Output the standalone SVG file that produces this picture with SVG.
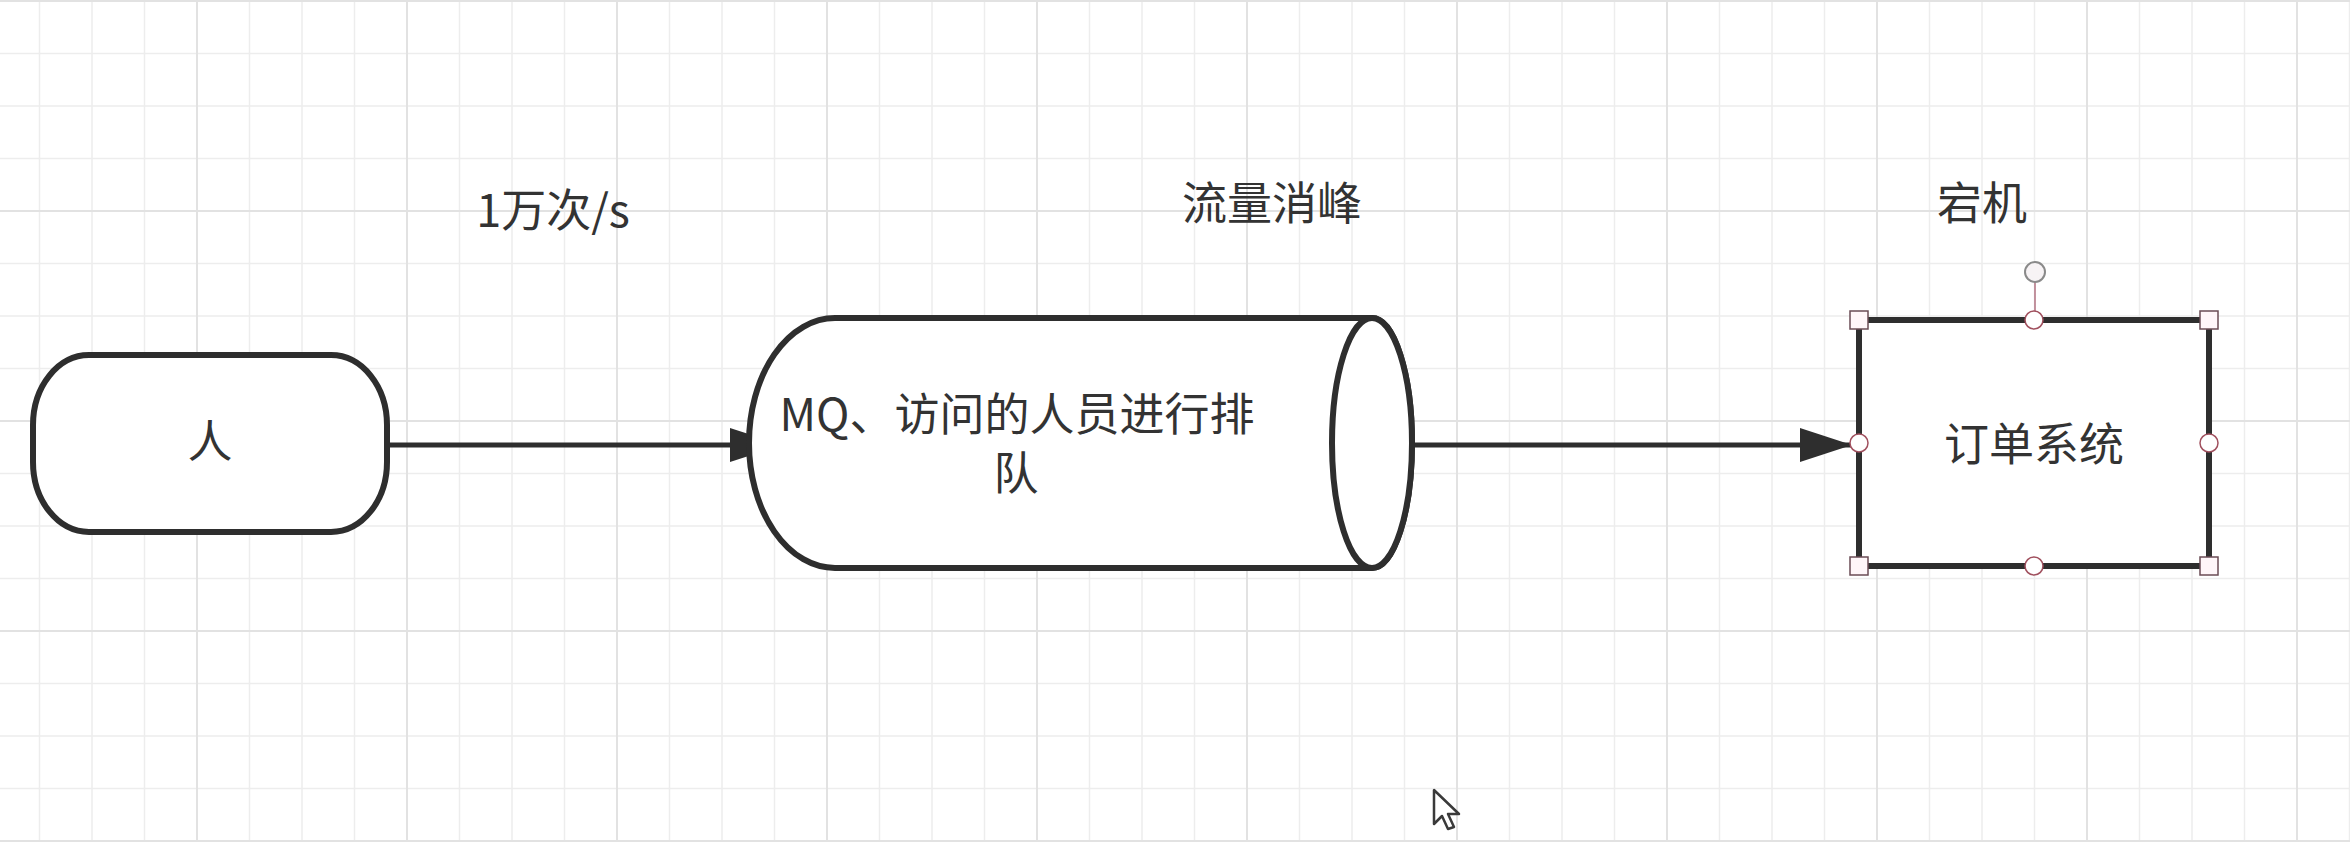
<svg xmlns="http://www.w3.org/2000/svg" width="2350" height="842" viewBox="0 0 2350 842">
<style>
.gridmin{stroke:#ededed;stroke-width:1.5;fill:none}
.gridmaj{stroke:#e2e2e2;stroke-width:2;fill:none}
.shape{fill:#ffffff;stroke:#2e2e2e;stroke-width:6}
.edge{stroke:#2e2e2e;stroke-width:5;fill:none}
.lbl{font-family:"Noto Sans CJK SC","Noto Sans",sans-serif;font-size:45px;fill:#333333;text-anchor:middle}
.hsq{fill:#fff6f9;stroke:#6b4c55;stroke-width:1.5}
.hci{fill:#ffffff;stroke:#a0505e;stroke-width:1.5}
</style>
<defs>
<marker id="arrow" markerUnits="userSpaceOnUse" markerWidth="54" markerHeight="36" refX="52" refY="17" orient="auto" viewBox="0 0 54 36">
<path d="M0,0 L52,17 L0,34 Z" fill="#2e2e2e"/>
</marker>
</defs>
<rect x="0" y="0" width="2350" height="842" fill="#ffffff"/>
<g id="grid">
<path class="gridmin" d="M39.5 0V842M92 0V842M144.5 0V842M249.5 0V842M302 0V842M354.5 0V842M459.5 0V842M512 0V842M564.5 0V842M669.5 0V842M722 0V842M774.5 0V842M879.5 0V842M932 0V842M984.5 0V842M1089.5 0V842M1142 0V842M1194.5 0V842M1299.5 0V842M1352 0V842M1404.5 0V842M1509.5 0V842M1562 0V842M1614.5 0V842M1719.5 0V842M1772 0V842M1824.5 0V842M1929.5 0V842M1982 0V842M2034.5 0V842M2139.5 0V842M2192 0V842M2244.5 0V842M2349.5 0V842M0 53.5H2350M0 106H2350M0 158.5H2350M0 263.5H2350M0 316H2350M0 368.5H2350M0 473.5H2350M0 526H2350M0 578.5H2350M0 683.5H2350M0 736H2350M0 788.5H2350"/>
<path class="gridmaj" d="M197 0V842M407 0V842M617 0V842M827 0V842M1037 0V842M1247 0V842M1457 0V842M1667 0V842M1877 0V842M2087 0V842M2297 0V842M0 1H2350M0 211H2350M0 421H2350M0 631H2350M0 841H2350"/>
</g>
<g id="labels">
<text class="lbl" x="553" y="227">1万次/s</text>
<text class="lbl" x="1272" y="220">流量消峰</text>
<text class="lbl" x="1982" y="220">宕机</text>
</g>
<g id="connectors">
<path class="edge" d="M387,445 L782,445" marker-end="url(#arrow)"/>
<path class="edge" d="M1412,445 L1852,445" marker-end="url(#arrow)"/>
</g>
<g id="node-person">
<path class="shape" d="M89,355 L331,355 A56,70 0 0 1 387,425 L387,462 A56,70 0 0 1 331,532 L89,532 A56,70 0 0 1 33,462 L33,425 A56,70 0 0 1 89,355 Z"/>
<text class="lbl" x="210" y="458">人</text>
</g>
<g id="node-mq">
<path class="shape" d="M835,318 L1372,318 A40,125 0 0 1 1372,568 L835,568 A86,125 0 0 1 835,318 Z"/>
<ellipse class="shape" cx="1372" cy="443" rx="40" ry="125"/>
<text class="lbl" x="1017" y="431">MQ、访问的人员进行排</text>
<text class="lbl" x="1016" y="490">队</text>
</g>
<g id="node-order">
<rect class="shape" x="1859" y="320" width="350" height="246"/>
<text class="lbl" x="2034" y="461">订单系统</text>
<line x1="2035" y1="282" x2="2035" y2="312" stroke="#b07080" stroke-width="1.5"/>
<circle cx="2035" cy="272" r="10" fill="#f7f3f5" stroke="#8a8a8a" stroke-width="2"/>
<rect class="hsq" x="1850" y="311" width="18" height="18"/>
<rect class="hsq" x="2200" y="311" width="18" height="18"/>
<rect class="hsq" x="1850" y="557" width="18" height="18"/>
<rect class="hsq" x="2200" y="557" width="18" height="18"/>
<circle class="hci" cx="2034" cy="320" r="9"/>
<circle class="hci" cx="2034" cy="566" r="9"/>
<circle class="hci" cx="1859" cy="443" r="9"/>
<circle class="hci" cx="2209" cy="443" r="9"/>
</g>
<g id="cursor">
<path d="M1434,790 L1434,824 L1442,816 L1448,829 L1454,827 L1448,814 L1459,814 Z" fill="#ffffff" stroke="#3a3a3a" stroke-width="2.5" stroke-linejoin="round"/>
</g>
</svg>
